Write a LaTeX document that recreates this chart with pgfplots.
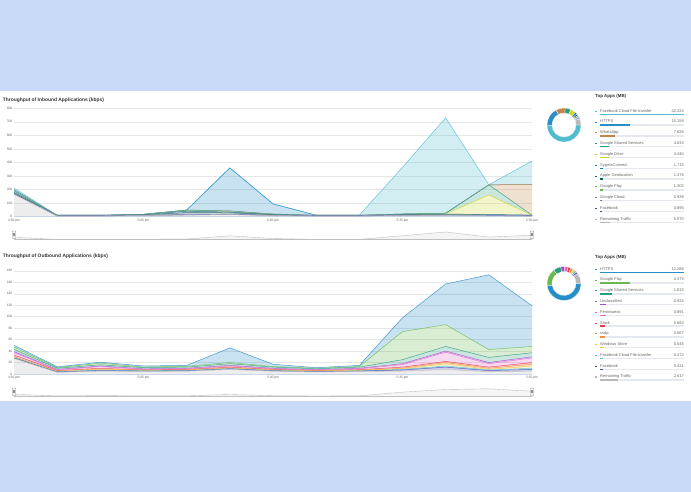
\documentclass[border=0pt]{standalone}
\usepackage{pgfplots}
\pgfplotsset{compat=1.18}
\usepackage{pgfplotstable}
\usepackage{fontspec}
\setmainfont{Liberation Sans}

\definecolor{bgblue}{RGB}{201,218,248}
\definecolor{txt}{RGB}{51,51,51}
\definecolor{lbl}{RGB}{102,102,102}
\definecolor{gridc}{RGB}{230,230,230}
\definecolor{axc}{RGB}{204,214,235}
\definecolor{track}{RGB}{228,233,240}
\definecolor{cFBC}{RGB}{80,188,206}
\definecolor{cHTTPS}{RGB}{40,142,200}
\definecolor{cWA}{RGB}{196,132,71}
\definecolor{cGSS}{RGB}{40,158,128}
\definecolor{cGD}{RGB}{205,212,45}
\definecolor{cSyg}{RGB}{30,110,180}
\definecolor{cApple}{RGB}{22,88,100}
\definecolor{cGP}{RGB}{105,185,80}
\definecolor{cGC}{RGB}{130,100,200}
\definecolor{cFB}{RGB}{60,70,180}
\definecolor{cRem}{RGB}{185,185,185}
\definecolor{cUnc}{RGB}{160,80,200}
\definecolor{cFen}{RGB}{225,105,205}
\definecolor{cSlack}{RGB}{230,60,75}
\definecolor{cSsdp}{RGB}{240,140,60}
\definecolor{cWin}{RGB}{240,200,60}

\newcommand{\ttl}{\fontsize{4.9}{5.5}\selectfont\bfseries}
\newcommand{\tck}{\fontsize{3.3}{4}\selectfont}
\newcommand{\lst}{\fontsize{4}{4.8}\selectfont}
\newcommand{\apt}{\fontsize{4.4}{5}\selectfont\bfseries}

\pgfplotstableread{
t rem fb gcloud gplay apple sygma gdrive gshared whatsapp https fbcloud total
0 165 3 2 1 4 4 0 12 0 8 12 211
1 4 1 1 1 1 1 0 1 0 0 0 10
2 4 1 1 1 1 1 0 1 0 0 0 10
3 8 1 1 1 2 2 0 2 0 0 0 17
4 12 1 1 1 15 10 0 8 0 0 0 48
5 15 1 1 1 10 6 0 8 0 318 0 360
6 8 1 1 1 3 2 0 3 0 75 0 94
7 4 1 1 1 1 1 0 1 0 0 0 10
8 4 1 1 1 1 1 0 1 0 0 0 10
9 8 1 1 1 3 2 0 3 0 0 345 364
10 10 1 1 1 3 3 0 6 0 0 705 730
11 6 1 3 1 2 2 145 75 0 0 0 235
12 4 1 3 1 1 1 0 0 225 0 175 411
}\inbound

\pgfplotstableread{
t rem fb fbcloud win ssdp slack fen unc gshared gplay https total
0 27 1 0.5 0.5 1 3 4.5 1.5 4 4 3 50
1 3 0.5 0.5 0.5 0.5 1 1 1 2 1 1.5 12.5
2 5 1 1 1 1 1 3 1 2 3 1.5 20.5
3 4.5 0.5 0.5 0.5 0.5 0.5 1 1 2 1 2 14
4 5 0.5 0.5 0.5 0.5 1 1 1 2 1.5 1.5 15
5 8 1 0.5 0.5 1 1 2 1 3 2 25.5 45.5
6 5 0.5 0.5 0.5 0.5 1 1 1 2 1 4 17
7 3.5 0.5 0.5 0.5 0.5 0.5 1 0.5 1.5 1 1 11
8 4.5 0.5 0.5 0.5 0.5 1 1.5 1 2 1 2 15
9 5 2 1 1 1 2 4.5 1.5 7 49 24 98
10 8 4 2 4 2 2 16 2 8 38 71 157
11 4 2 1 1 2 2 6 2 9 13.6 130.4 173
12 5 3 2 4 3 3 8 2 7 11 71 119
}\outbound

\pgfplotsset{
  mainax/.style={
    scale only axis, width=518pt, xmin=0, xmax=12, ymin=0,
    stack plots=y,
    axis x line*=bottom, axis y line*=left,
    x axis line style={draw=axc, line width=0.4pt},
    y axis line style={draw=none},
    major tick length=0pt,
    ymajorgrids, grid style={draw=gridc, line width=0.4pt},
    xtick={0,3,6,9,12},
    xticklabels={4:50 pm,5:05 pm,5:20 pm,5:35 pm,5:50 pm},
    xticklabel style={font=\tck, text=lbl, inner sep=0.5pt, yshift=-1.6pt},
    yticklabel style={font=\tck, text=lbl, inner sep=0.5pt, xshift=-1pt},
    /pgf/number format/assume math mode=true,
    scaled ticks=false,
    anchor=south west,
  },
  navax/.style={
    scale only axis, width=518pt, height=8pt, xmin=0, xmax=12, ymin=0,
    hide axis, clip=false, anchor=south west,
  },
  listax/.style={
    scale only axis, width=84pt, ymin=0, ymax=10, xmin=0,
    y dir=reverse, hide axis, clip=false, anchor=north west,
  },
}

\newcommand{\layer}[3]{%
  \addplot[draw=none, fill=#3, fill opacity=0.25] table[x=t, y=#2] {#1} \closedcycle;
  \addplot[#3!85!white, line width=0.5pt] table[x=t, y expr=0] {#1};
}

\newcommand{\handle}[1]{%
  \draw[black!45, fill=black!4, line width=0.3pt, rounded corners=0.4pt] (axis cs:#1,0) ++(-1.7pt,1pt) rectangle ++(3.4pt,7.5pt);
  \draw[black!45, line width=0.25pt] (axis cs:#1,0) ++(-0.5pt,3pt) -- ++(0,3.5pt) ++(1pt,0) -- ++(0,-3.5pt);
}

\newcommand{\approw}[5]{%
  \addplot[xbar, bar width=1.4pt, bar shift=0pt, fill=track, draw=none] coordinates {(#5,#1)};
  \addplot[xbar, bar width=1.4pt, bar shift=0pt, fill=#4, draw=none] coordinates {(#3,#1)};
  \node[anchor=base west, font=\lst, text=lbl, inner sep=0, yshift=2.1pt] at (axis cs:0,#1) {#2};
  \node[anchor=base east, font=\lst, text=lbl, inner sep=0, yshift=2.1pt] at (axis cs:#5,#1) {#3};
  \draw[#4, line width=1.1pt] (axis cs:0,#1) ++(-5.5pt,3pt) -- ++(2.6pt,0);
}

\newcommand{\donut}[3]{%
  \begin{scope}[shift={#1}]
  \foreach \v/\col [remember=\e as \s (initially 0), evaluate=\v as \e using {\s-\v*360/#2}] in {#3} {
    \fill[\col, draw=white, line width=0.25pt] (\s:17pt) arc[start angle=\s, end angle=\e, radius=17pt] -- (\e:12pt) arc[start angle=\e, end angle=\s, radius=12pt] -- cycle;
  }
  \end{scope}
}

\begin{document}
\begin{tikzpicture}[x=1pt,y=1pt]
\useasboundingbox (0,0) rectangle (691,492);
\fill[bgblue] (0,0) rectangle (691,492);
\fill[white] (0,91) rectangle (691,401);

\node[anchor=west, font=\ttl, text=txt, inner sep=0] at (2.7,392) {Throughput of Inbound Applications (kbps)};
\node[anchor=west, font=\ttl, text=txt, inner sep=0] at (2.7,235.3) {Throughput of Outbound Applications (kbps)};

% ---------- inbound main chart
\begin{axis}[mainax, at={(14pt,275.4pt)}, height=108.3pt, ymax=800, ytick={0,100,...,800}]
\layer{\inbound}{rem}{cRem}
\layer{\inbound}{fb}{cFB}
\layer{\inbound}{gcloud}{cGC}
\layer{\inbound}{gplay}{cGP}
\layer{\inbound}{apple}{cApple}
\layer{\inbound}{sygma}{cSyg}
\layer{\inbound}{gdrive}{cGD}
\layer{\inbound}{gshared}{cGSS}
\layer{\inbound}{whatsapp}{cWA}
\layer{\inbound}{https}{cHTTPS}
\layer{\inbound}{fbcloud}{cFBC}
\end{axis}

% inbound navigator
\begin{axis}[navax, at={(14pt,252.5pt)}, ymax=780]
\addplot[fill=black!4, draw=black!25, line width=0.4pt] table[x=t, y=total] {\inbound} \closedcycle;
\draw[black!25, line width=0.4pt] (axis cs:0,0) -- (axis cs:12,0);
\handle{0}
\handle{12}
\end{axis}

% ---------- outbound main chart
\begin{axis}[mainax, at={(14pt,118pt)}, height=103.2pt, ymax=180, ytick={0,20,...,180}]
\layer{\outbound}{rem}{cRem}
\layer{\outbound}{fb}{cFB}
\layer{\outbound}{fbcloud}{cFBC}
\layer{\outbound}{win}{cWin}
\layer{\outbound}{ssdp}{cSsdp}
\layer{\outbound}{slack}{cSlack}
\layer{\outbound}{fen}{cFen}
\layer{\outbound}{unc}{cUnc}
\layer{\outbound}{gshared}{cGSS}
\layer{\outbound}{gplay}{cGP}
\layer{\outbound}{https}{cHTTPS}
\end{axis}

% outbound navigator
\begin{axis}[navax, at={(14pt,95.5pt)}, ymax=180]
\addplot[fill=black!4, draw=black!25, line width=0.4pt] table[x=t, y=total] {\outbound} \closedcycle;
\draw[black!25, line width=0.4pt] (axis cs:0,0) -- (axis cs:12,0);
\handle{0}
\handle{12}
\end{axis}

% ---------- donuts
\donut{(564,367)}{85.48}{42.324/cFBC,15.159/cHTTPS,7.626/cWA,4.634/cGSS,4.440/cGD,1.715/cSyg,1.376/cApple,1.302/cGP,0.939/cGC,0.895/cFB,5.070/cRem}
\donut{(564,208.5)}{25.691}{12.266/cHTTPS,4.379/cGP,1.815/cGSS,0.924/cUnc,0.891/cFen,0.683/cSlack,0.667/cSsdp,0.546/cWin,0.472/cFBC,0.431/cFB,2.617/cRem}

% ---------- top apps lists
\node[anchor=west, font=\apt, text=txt, inner sep=0] at (595,396) {Top Apps (MB)};
\begin{axis}[listax, at={(600pt,377.7pt)}, height=108pt, xmax=42.324]
\approw{0}{Facebook Cloud File-transfer}{42.324}{cFBC}{42.324}
\approw{1}{HTTPS}{15.159}{cHTTPS}{42.324}
\approw{2}{WhatsApp}{7.626}{cWA}{42.324}
\approw{3}{Google Shared Services}{4.634}{cGSS}{42.324}
\approw{4}{Google Drive}{4.440}{cGD}{42.324}
\approw{5}{SygmaConnect}{1.715}{cSyg}{42.324}
\approw{6}{Apple Geolocation}{1.376}{cApple}{42.324}
\approw{7}{Google Play}{1.302}{cGP}{42.324}
\approw{8}{Google Cloud}{0.939}{cGC}{42.324}
\approw{9}{Facebook}{0.895}{cFB}{42.324}
\approw{10}{Remaining Traffic}{5.070}{cRem}{42.324}
\end{axis}

\node[anchor=west, font=\apt, text=txt, inner sep=0] at (595,234.7) {Top Apps (MB)};
\begin{axis}[listax, at={(600pt,219.7pt)}, height=107.7pt, xmax=12.266]
\approw{0}{HTTPS}{12.266}{cHTTPS}{12.266}
\approw{1}{Google Play}{4.379}{cGP}{12.266}
\approw{2}{Google Shared Services}{1.815}{cGSS}{12.266}
\approw{3}{Unclassified}{0.924}{cUnc}{12.266}
\approw{4}{Fennoweck}{0.891}{cFen}{12.266}
\approw{5}{Slack}{0.683}{cSlack}{12.266}
\approw{6}{ssdp}{0.667}{cSsdp}{12.266}
\approw{7}{Windows Store}{0.546}{cWin}{12.266}
\approw{8}{Facebook Cloud File-transfer}{0.472}{cFBC}{12.266}
\approw{9}{Facebook}{0.431}{cFB}{12.266}
\approw{10}{Remaining Traffic}{2.617}{cRem}{12.266}
\end{axis}
\end{tikzpicture}
\end{document}
